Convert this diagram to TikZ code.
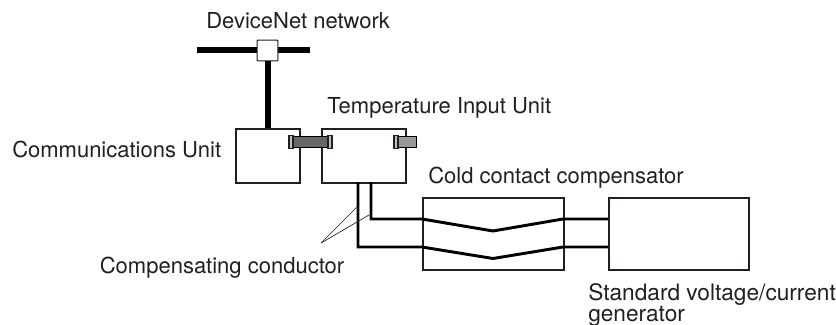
\documentclass[tikz,border=0pt]{standalone}
\usepackage{fontspec}
\setmainfont{TeX Gyre Heros}
\definecolor{ink}{HTML}{231F20}
\begin{document}
\begin{tikzpicture}[x=0.75pt,y=-0.75pt,
  lab/.style={inner sep=0pt,anchor=base west,text=ink,font=\fontsize{16.5}{15.5}\selectfont},
  biglab/.style={inner sep=0pt,anchor=base west,text=ink,font=\fontsize{17}{16}\selectfont},
  boxn/.style={draw=ink,line width=1.4pt,fill=white,inner sep=0pt,minimum width=#1},
  bus/.style={draw=black,line width=4.5pt},
  wire/.style={draw=black,line width=2.2pt,line join=miter},
  lead/.style={draw=ink,line width=0.5pt},
  conn/.style={draw=ink,line width=1pt,fill=black!25,inner sep=0pt,minimum height=9.5pt,minimum width=3pt},
  barr/.style={draw=black,line width=1pt,fill=black!60,inner sep=0pt,minimum height=8pt}]
\useasboundingbox (0,0) rectangle (836,325);
\coordinate (netL) at (197,50);
\coordinate (netR) at (310,50);
\draw[bus] (netL) -- (netR);
\node[boxn=15.5pt,minimum height=15.5pt,line width=0.8pt,rounded corners=0.5pt] (tap) at (267.5,50.5) {};
\node[boxn=48pt,minimum height=40.5pt,anchor=north west] (comm) at (235,128) {};
\node[boxn=63pt,minimum height=40.5pt,anchor=north west] (temp) at (321,128) {};
\draw[bus] (tap.south) -- (tap.south |- comm.north);
% connectors
\node[barr,minimum width=29pt] (barA) at (310.5,142) {};
\node[conn] (capA) at (291,142) {};
\node[conn] (capB) at (330,142) {};
\node[barr,minimum width=14pt,fill=black!40] (barB) at (407,142) {};
\node[conn] (capC) at (396,142) {};
% boxes on the right
\node[boxn=105.5pt,minimum height=54pt,anchor=north west] (cold) at (422,197) {};
\node[boxn=105pt,minimum height=54pt,anchor=north west] (gen) at (608,197) {};
\coordinate (tL) at (358,182);
\coordinate (tR) at (371,182);
\coordinate (cUL) at (422,219);
\coordinate (cLL) at (422,247);
\coordinate (cUM) at (493,231);
\coordinate (cLM) at (493,258.5);
\coordinate (cUR) at (563,219);
\coordinate (cLR) at (563,247);
\coordinate (gU) at (608,219);
\coordinate (gL) at (608,247);
\draw[wire] (tR) -- (371,219) -- (cUL) -- (cUM) -- (cUR) -- (gU);
\draw[wire] (tL) -- (358,247) -- (cLL) -- (cLM) -- (cLR) -- (gL);
\coordinate (lead) at (321,243);
\draw[lead] (lead) -- (357,207);
\draw[lead] (lead) -- (369,215);
% labels
\node[lab] (t1) at (206,28) {DeviceNet network};
\node[lab] (t2) at (327,113) {Temperature Input Unit};
\node[lab] (t3) at (12,157) {Communications Unit};
\node[lab] (t4) at (428,183) {Cold contact compensator};
\node[lab] (t5) at (99.5,273) {Compensating conductor};
\node[biglab] (t6) at (588,300.5) {Standard voltage/current};
\node[biglab] (t7) at (588,321) {generator};
\end{tikzpicture}
\end{document}
